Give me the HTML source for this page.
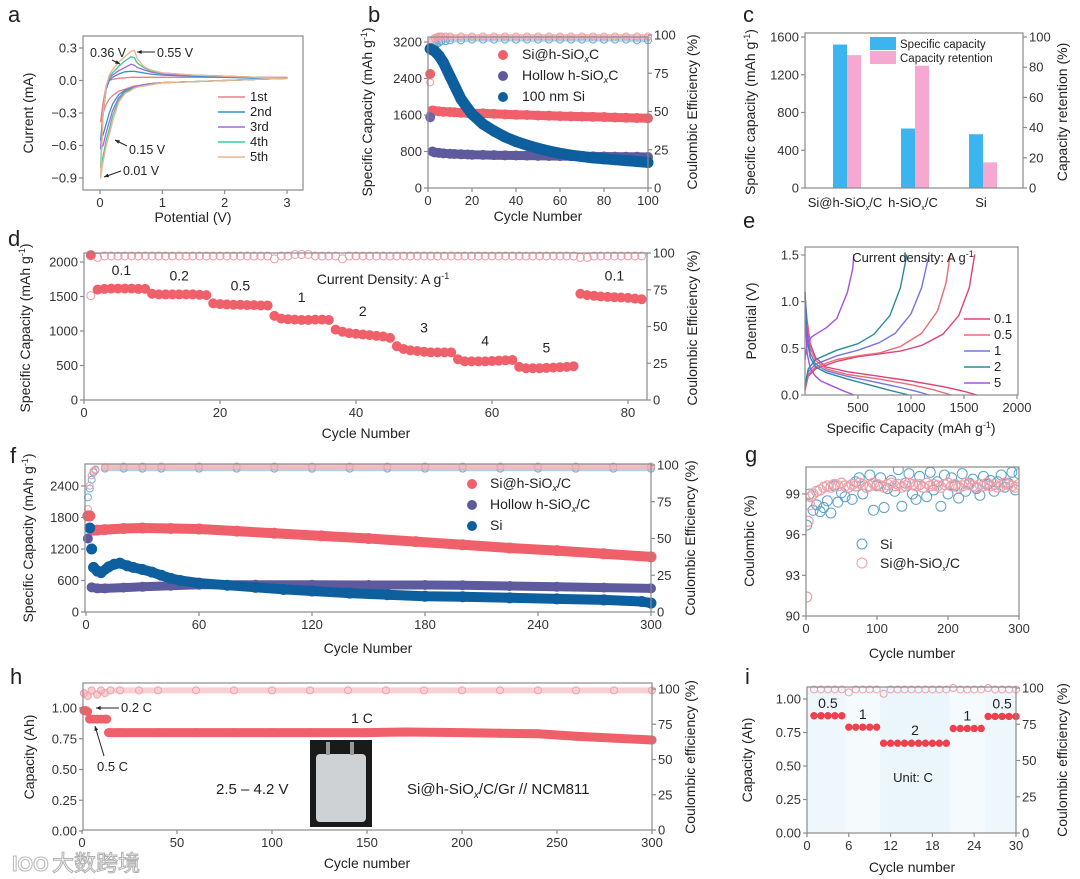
<!DOCTYPE html>
<html><head><meta charset="utf-8">
<style>
html,body{margin:0;padding:0;background:#fff;}
svg{display:block;font-family:"Liberation Sans","Noto Sans CJK SC",sans-serif;}
</style></head>
<body>
<svg id="fig" width="1080" height="879" viewBox="0 0 1080 879" xmlns="http://www.w3.org/2000/svg"></svg>
<script>
// ---------- data: panel a (CV) ----------
const aV=[0.01,0.05,0.1,0.15,0.2,0.3,0.4,0.5,0.55,0.6,0.7,0.8,1.0,1.5,2.0,2.5,3.0];
const aUp1=[-0.38,-0.2,-0.05,0.0,0.01,0.02,0.025,0.03,0.03,0.03,0.03,0.03,0.03,0.03,0.03,0.03,0.03];
const aDn1=[-0.38,-0.3,-0.22,-0.17,-0.14,-0.1,-0.08,-0.06,-0.05,-0.05,-0.04,-0.03,-0.02,-0.01,0,0.01,0.02];
const aUp2=[-0.55,-0.3,-0.08,0.0,0.03,0.06,0.08,0.085,0.085,0.08,0.07,0.06,0.05,0.04,0.03,0.02,0.02];
const aDn2=[-0.55,-0.5,-0.4,-0.3,-0.22,-0.13,-0.09,-0.07,-0.06,-0.05,-0.04,-0.03,-0.02,-0.01,0,0.01,0.02];
const aUp3=[-0.63,-0.3,-0.05,0.02,0.05,0.09,0.12,0.15,0.14,0.12,0.1,0.08,0.06,0.05,0.04,0.03,0.02];
const aDn3=[-0.63,-0.6,-0.48,-0.38,-0.28,-0.16,-0.1,-0.08,-0.06,-0.05,-0.04,-0.03,-0.02,-0.01,0,0.01,0.02];
const aUp4=[-0.8,-0.3,-0.05,0.03,0.07,0.13,0.18,0.22,0.21,0.16,0.12,0.09,0.07,0.05,0.04,0.03,0.02];
const aDn4=[-0.8,-0.7,-0.55,-0.45,-0.33,-0.18,-0.11,-0.08,-0.07,-0.06,-0.05,-0.04,-0.02,-0.01,0,0.01,0.02];
const aUp5=[-0.9,-0.3,-0.05,0.05,0.1,0.17,0.22,0.27,0.28,0.2,0.13,0.1,0.07,0.05,0.04,0.03,0.02];
const aDn5=[-0.9,-0.75,-0.6,-0.5,-0.38,-0.2,-0.12,-0.09,-0.07,-0.06,-0.05,-0.04,-0.02,-0.01,0,0.01,0.02];
const aNames=["1st","2nd","3rd","4th","5th"];
const aXTicks=[0,1,2,3];
const aYTicks=[0.3,0.0,-0.3,-0.6,-0.9];
const aYLabels=["0.3","0.0","\u22120.3","\u22120.6","\u22120.9"];
// ---------- panel b ----------
const bCycSi=[1,3,5,7,10,12,15,18,20,25,30,35,40,45,50,55,60,65,70,75,80,85,90,95,100];
const bSi=[3050,3000,2900,2750,2450,2250,1950,1750,1620,1400,1250,1120,1020,940,870,810,760,720,690,660,640,620,600,580,560];
const bCyc=[2,3,5,7,10,12,15,18,20,25,30,35,40,45,50,55,60,65,70,75,80,85,90,95,100];
const bSiC=[1700,1690,1680,1670,1665,1660,1650,1645,1640,1635,1625,1615,1605,1600,1590,1585,1575,1570,1565,1560,1555,1545,1540,1535,1530];
const bHol=[800,780,770,760,750,745,740,735,730,725,720,715,712,710,705,702,700,698,695,692,690,688,686,684,680];
const bFirstSiC=2500, bFirstHol=1550;
const bCeCyc=[1,2,3,4,5,6,8,10,15,20,25,30,35,40,45,50,55,60,65,70,75,80,85,90,95,100];
const bCeSiC=[69,96,98,98.5,99,99,99,99,99,99,99,99,99,99,99,99,99,99,99,99,99,99,99,99,99,99];
const bCeSi=[90,92,93,94,95,96,96,96.5,96.5,97,97,97,97,97,97,97,97,97,97,97,97,97,97,97,96.5,96.5];
const bCeHol=[48];
const bXTicks=[0,20,40,60,80,100];
const bYTicks=[0,800,1600,2400,3200];
const bRTicks=[0,25,50,75,100];
// ---------- panel c ----------
const cCats=["Si@h-SiOx/C","h-SiOx/C","Si"];
const cCap=[1520,630,570];
const cRet=[88,81,17];
const cYTicks=[0,400,800,1200,1600];
const cRTicks=[0,20,40,60,80,100];
// ---------- panel d ----------
const dCap=[2100,1600,1610,1615,1615,1615,1615,1610,1610,1540,1530,1530,1530,1530,1530,1530,1525,1520,1400,1390,1385,1380,1380,1375,1375,1370,1370,1220,1180,1170,1165,1160,1160,1165,1165,1160,1020,990,970,960,950,940,930,920,900,780,740,720,710,700,690,690,690,690,590,560,560,560,560,565,570,575,580,480,460,460,460,465,470,475,480,490,1540,1520,1510,1500,1495,1490,1485,1480,1470,1460];
const dCE=[71,97,98,98,98,98,98,98,98,98,98,98,98,98,98,98,98,98,98,98,98,98,98,98,98,98,98,96,98,98,99,99,99,98,98,98,98,96,98,98,98,98,98,98,98,98,98,98,98,98,98,98,98,98,98,98,98,98,98,98,98,98,98,98,98,98,98,98,98,98,98,98,97,97,98,98,98,98,98,98,98,98];
const dRates=["0.1","0.2","0.5","1","2","3","4","5","0.1"];
const dRateCyc=[5.5,14,23,32,41,50,59,68,78];
const dRateVal=[1620,1540,1400,1230,1030,790,600,500,1540];
const dXTicks=[0,20,40,60,80];
const dYTicks=[0,500,1000,1500,2000];
const dRTicks=[0,25,50,75,100];
// ---------- panel e ----------
const eLabels=["0.1","0.5","1","2","5"];
const eD01c=[0,20,50,100,200,400,700,1000,1300,1500,1620], eD01v=[1.05,0.8,0.55,0.4,0.3,0.25,0.2,0.15,0.09,0.04,0];
const eD05c=[0,20,50,100,200,400,700,1000,1200,1380], eD05v=[1.05,0.75,0.5,0.37,0.28,0.22,0.17,0.11,0.06,0];
const eD1c=[0,20,50,100,200,400,700,900,1050,1170], eD1v=[1.1,0.7,0.45,0.33,0.26,0.2,0.13,0.08,0.04,0];
const eD2c=[0,20,50,100,200,400,600,800,980], eD2v=[1.1,0.6,0.4,0.3,0.24,0.17,0.11,0.05,0];
const eD5c=[0,20,50,100,150,250,350,460], eD5v=[0.9,0.45,0.28,0.2,0.15,0.1,0.05,0];
const eC01c=[0,30,100,300,500,700,900,1100,1300,1450,1550,1600], eC01v=[0.05,0.2,0.28,0.36,0.41,0.44,0.47,0.53,0.65,0.85,1.15,1.5];
const eC05c=[0,30,100,300,500,700,900,1100,1250,1330,1370], eC05v=[0.05,0.22,0.3,0.38,0.42,0.45,0.52,0.66,0.9,1.2,1.5];
const eC1c=[0,30,100,300,500,700,850,1000,1100,1170], eC1v=[0.08,0.25,0.33,0.42,0.48,0.56,0.66,0.87,1.15,1.5];
const eC2c=[0,30,100,300,500,650,800,900,960], eC2v=[0.1,0.28,0.38,0.48,0.55,0.65,0.85,1.15,1.5];
const eC5c=[0,20,60,100,200,300,400,450,460], eC5v=[0.38,0.55,0.62,0.65,0.72,0.82,1.1,1.35,1.5];
const eXTicks=[500,1000,1500,2000];
const eYTicks=[0,0.5,1.0,1.5];
// ---------- panel f ----------
const fCycA=[1,2,4,6,10,20,30,45,60,80,100,125,150,175,200,225,250,275,300];
const fSiC=[1830,1830,1560,1560,1570,1590,1600,1590,1580,1540,1500,1450,1400,1340,1280,1220,1170,1110,1050];
const fCycH=[1,3,6,10,20,30,45,60,90,120,150,180,200,225,250,275,300];
const fHol=[1400,470,450,450,465,480,500,520,520,520,515,515,510,495,480,465,450];
const fCycS=[2,3,4,6,8,12,15,18,22,25,30,35,40,45,50,60,75,90,105,120,140,160,180,200,225,250,275,295,300];
const fSi=[1600,1200,850,780,750,860,910,930,880,850,810,760,700,640,600,550,510,470,430,400,360,330,300,290,270,250,230,200,170];
const fCeCyc=[1,2,3,4,5,10,20,30,40,60,80,100,120,140,160,180,200,220,240,260,280,300];
const fCeSiC=[70,86,93,96,97,98.5,99,99,99,99,99,99,99,99,99,99,99,99,99,99,99,99];
const fCeSi=[78,84,90,95,96.5,97.5,97.5,97.5,97.5,97.5,97.5,97.5,97.5,97.5,97.5,97.5,97.5,97.5,97.5,97.5,97.5,97.5];
const fXTicks=[0,60,120,180,240,300];
const fYTicks=[0,600,1200,1800,2400];
const fRTicks=[0,25,50,75,100];
// ---------- panel g ----------
const gCycSi=[1,5,10,15,20,25,30,35,40,45,50,55,60,65,70,75,80,85,90,95,100,105,110,115,120,125,130,135,140,145,150,155,160,165,170,175,180,185,190,195,200,205,210,215,220,225,230,235,240,245,250,255,260,265,270,275,280,285,290,295,300];
const gSi=[96.7,99.0,97.8,98.2,97.7,98.0,98.5,97.6,99.6,98.4,99.1,98.8,99.5,98.6,99.9,100.2,99.0,99.5,100.4,97.8,99.6,100.2,98.0,99.4,100.0,99.2,100.8,98.1,99.8,100.5,99.0,98.6,100.3,99.5,98.8,100.6,99.3,99.9,98.1,100.4,99.0,100.2,99.6,98.7,100.5,99.2,99.8,100.1,99.4,98.9,100.3,99.7,100.0,99.2,99.9,100.4,99.5,99.8,100.6,99.3,100.5];
const gCycSiC=[1,3,5,7,10,15,20,25,30,35,40,45,50,55,60,65,70,75,80,85,90,95,100,105,110,115,120,125,130,135,140,145,150,155,160,165,170,175,180,185,190,195,200,205,210,215,220,225,230,235,240,245,250,255,260,265,270,275,280,285,290,295,300];
const gSiC=[91.4,97.0,98.2,98.8,99.0,99.2,99.3,99.5,99.6,99.5,99.7,99.6,99.8,99.6,99.5,99.7,99.6,99.8,99.7,99.5,99.6,99.8,99.7,99.6,99.5,99.7,99.8,99.6,99.7,99.5,99.6,99.8,99.7,99.6,99.7,99.5,99.8,99.6,99.7,99.6,99.5,99.7,99.8,99.6,99.7,99.5,99.6,99.8,99.7,99.6,99.5,99.7,99.6,99.8,99.6,99.7,99.5,99.6,99.8,99.7,99.6,99.5,99.7];
const gXTicks=[0,100,200,300];
const gYTicks=[90,93,96,99];
// ---------- panel h ----------
const hCyc=[1,2,3,4,6,8,10,12,13,14,20,40,60,80,100,120,150,170,200,220,240,260,280,300];
const hCap=[0.98,0.98,0.97,0.91,0.91,0.91,0.91,0.91,0.91,0.80,0.80,0.80,0.80,0.80,0.80,0.80,0.80,0.805,0.80,0.795,0.79,0.77,0.755,0.74];
const hCeCyc=[1,3,5,8,10,12,15,20,30,40,60,80,100,120,140,160,180,200,220,240,260,280,300];
const hCe=[97,95,99,96,99,97,99,99,99,99,99,99,99,99,99,99,99,99,99,99,99,99,99];
const hXTicks=[0,50,100,150,200,250,300];
const hYTicks=[0,0.25,0.5,0.75,1.0];
const hYLabels=["0.00","0.25","0.50","0.75","1.00"];
const hRTicks=[0,25,50,75,100];
// ---------- panel i ----------
const iCyc=[1,2,3,4,5,6,7,8,9,10,11,12,13,14,15,16,17,18,19,20,21,22,23,24,25,26,27,28,29,30];
const iCap=[0.875,0.875,0.875,0.875,0.875,0.79,0.79,0.79,0.79,0.79,0.67,0.67,0.67,0.67,0.67,0.67,0.67,0.67,0.67,0.67,0.78,0.78,0.78,0.78,0.78,0.87,0.87,0.87,0.87,0.87];
const iCe=[99,99,99,99,99,97,99,99,99,99,96,99,99,99,99,99,99,99,99,99,100,99,99,99,99,100,99,99,99,99];
const iRates=["0.5","1","2","1","0.5"];
const iRateCyc=[3,8,15.5,23,28];
const iRateVal=[0.875,0.79,0.67,0.78,0.87];
const iXTicks=[0,6,12,18,24,30];
const iYTicks=[0,0.25,0.5,0.75,1.0];
const iYLabels=["0.00","0.25","0.50","0.75","1.00"];
const iRTicks=[0,25,50,75,100];

// ---------- helpers ----------
const NS="http://www.w3.org/2000/svg";
const svg=document.getElementById('fig');
function el(tag,attrs,name,parent){
  const e=document.createElementNS(NS,tag);
  for(const k in attrs) e.setAttribute(k,attrs[k]);
  
  
  (parent||svg).appendChild(e);
  return e;
}
function lin(d0,d1,p0,p1){return v=>p0+(v-d0)/(d1-d0)*(p1-p0);}
function txt(x,y,s,size,anchor,name,fill){
  const t=el('text',{x:x,y:y,'font-size':size,'text-anchor':anchor||'middle',fill:fill||'#222'},name);
  t.innerHTML=s;return t;
}
function rtxt(x,y,s,size,name){
  const t=el('text',{x:0,y:0,'font-size':size,'text-anchor':'middle',fill:'#222',transform:`translate(${x},${y}) rotate(-90)`},name);
  t.innerHTML=s;return t;
}
function frame(l,t,r,b,name){el('rect',{x:l,y:t,width:r-l,height:b-t,fill:'none',stroke:'#8a8a8a','stroke-width':1.2},name);}
function xticks(sx,vals,yb,name,labels){
  vals.forEach((v,i)=>{
    el('line',{x1:sx(v),x2:sx(v),y1:yb,y2:yb+4,stroke:'#8a8a8a','stroke-width':1.2},name+'-tick');
    txt(sx(v),yb+17,labels?labels[i]:String(v),13,'middle',name+'-label','#333');
  });
}
function yticks(sy,vals,x,side,name,labels){
  vals.forEach((v,i)=>{
    const d=side==='left'?-4:4;
    el('line',{x1:x,x2:x+d,y1:sy(v),y2:sy(v),stroke:'#8a8a8a','stroke-width':1.2},name+'-tick');
    txt(side==='left'?x-6:x+6,sy(v)+4.5,labels?labels[i]:String(v),13,side==='left'?'end':'start',name+'-label','#333');
  });
}
function line(xs,ys,sx,sy,color,w,name,op){
  const pts=xs.map((x,i)=>sx(x).toFixed(1)+','+sy(ys[i]).toFixed(1)).join(' ');
  el('polyline',{points:pts,fill:'none',stroke:color,'stroke-width':w,'stroke-linejoin':'round','stroke-linecap':'round',opacity:op||1},name);
}
function dots(xs,ys,sx,sy,color,r,name,filled){
  xs.forEach((x,i)=>{
    el('circle',{cx:sx(x),cy:sy(ys[i]),r:r,fill:filled?color:'none',stroke:color,'stroke-width':1},name);
  });
}
function letter(x,y,s){txt(x,y,s,22,'start','panel-label-'+s);}
function arrow(x1,y1,x2,y2,name){
  el('line',{x1:x1,y1:y1,x2:x2,y2:y2,stroke:'#222','stroke-width':1},name);
  const a=Math.atan2(y2-y1,x2-x1),L=5;
  const p=[[x2,y2],[x2-L*Math.cos(a-0.4),y2-L*Math.sin(a-0.4)],[x2-L*Math.cos(a+0.4),y2-L*Math.sin(a+0.4)]];
  el('polygon',{points:p.map(q=>q.join(',')).join(' '),fill:'#222'},name+'-head');
}
const SUBX='<tspan font-size="9" dy="3" font-style="italic">x</tspan><tspan dy="-3">';
const SUP1='<tspan font-size="9" dy="-5">-1</tspan><tspan dy="5">)</tspan>';

// ================= panel a =================
(function(){
  const sx=lin(0,3,100,287), sy=lin(-0.9,0.3,178,48);
  letter(8,22,'a');
  const cols=['#e8808c','#3a8fc8','#a668d6','#3cc8a0','#eab48a'];
  const ups=[aUp1,aUp2,aUp3,aUp4,aUp5], dns=[aDn1,aDn2,aDn3,aDn4,aDn5];
  for(let k=0;k<5;k++){
    line(aV,ups[k],sx,sy,cols[k],1.3,'cv-anodic-'+aNames[k]);
    line(aV,dns[k],sx,sy,cols[k],1.3,'cv-cathodic-'+aNames[k]);
  }
  frame(83,36,303,190,'a-plot-frame');
  xticks(sx,aXTicks,190,'a-x');
  yticks(sy,aYTicks,83,'left','a-y',aYLabels);
  rtxt(33,113,'Current (mA)',14,'a-y-axis-title');
  txt(193,222,'Potential (V)',14,'middle','a-x-axis-title');
  aNames.forEach((n,k)=>{
    const y=101+k*15;
    el('line',{x1:218,x2:245,y1:y-4,y2:y-4,stroke:cols[k],'stroke-width':1.5},'a-legend-line');
    txt(250,y,n,13,'start','a-legend-label');
  });
  txt(90,57,'0.36 V',12.5,'start','annotation-036v');
  arrow(112,60,120,64,'arrow-036v');
  txt(157,57,'0.55 V',12.5,'start','annotation-055v');
  arrow(155,52,137,52,'arrow-055v');
  txt(129,154,'0.15 V',12.5,'start','annotation-015v');
  arrow(127,146,115,140,'arrow-015v');
  txt(123,175,'0.01 V',12.5,'start','annotation-001v');
  arrow(121,171,104,177,'arrow-001v');
})();

// ================= panel b =================
(function(){
  const sx=lin(0,100,428,648), sy=lin(0,3200,188,42), sr=lin(0,100,188,35);
  letter(368,22,'b');
  line(bCeCyc,bCeSi,sx,sr,'#7ab8dc',4,'b-ce-si-band',0.6);
  dots(bCeCyc,bCeSi,sx,sr,'#5aa6d4',3.5,'b-ce-si-point',false);
  line(bCeCyc.slice(1),bCeSiC.slice(1),sx,sr,'#f4b0b6',5,'b-ce-sic-band',0.8);
  dots(bCeCyc,bCeSiC,sx,sr,'#f09aa2',3.5,'b-ce-sic-point',false);
  dots([1],bCeHol,sx,sr,'#8a86c4',3.5,'b-ce-hollow-point',false);
  line(bCyc,bHol,sx,sy,'#5e5a9e',9,'b-hollow-series');
  dots(bCyc,bHol,sx,sy,'#5e5a9e',4.5,'b-hollow-point',true);
  line(bCyc,bSiC,sx,sy,'#f0606a',9,'b-sic-series');
  dots(bCyc,bSiC,sx,sy,'#f0606a',4.5,'b-sic-point',true);
  line(bCycSi,bSi,sx,sy,'#0d5f9e',11,'b-si-series');
  dots(bCycSi,bSi,sx,sy,'#0d5f9e',5,'b-si-point',true);
  dots([1],[bFirstSiC],sx,sy,'#f0606a',4.5,'b-sic-first-cycle',true);
  dots([1],[bFirstHol],sx,sy,'#6a66b0',4.5,'b-hollow-first-cycle',true);
  frame(428,37,648,188,'b-plot-frame');
  xticks(sx,bXTicks,188,'b-x');
  yticks(sy,bYTicks,428,'left','b-y');
  yticks(sr,bRTicks,648,'right','b-yr');
  rtxt(372,112,'Specific Capacity (mAh g'+SUP1,14,'b-y-axis-title');
  rtxt(697,112,'Coulombic Efficiency (%)',14,'b-y2-axis-title');
  txt(538,221,'Cycle Number',14,'middle','b-x-axis-title');
  const lg=[['#f0606a','Si@h-SiO'+SUBX+'C</tspan>'],['#5e5a9e','Hollow h-SiO'+SUBX+'C</tspan>'],['#0d5f9e','100 nm Si']];
  lg.forEach((l,k)=>{
    el('circle',{cx:503,cy:59+k*21-4,r:5,fill:l[0]},'b-legend-marker');
    txt(522,59+k*21,l[1],14,'start','b-legend-label');
  });
})();

// ================= panel c =================
(function(){
  const sy=lin(0,1600,188,37), sr=lin(0,100,188,37);
  const cx=[847,915,983];
  letter(743,22,'c');
  cCats.forEach((c,i)=>{
    el('rect',{x:cx[i]-14,y:sy(cCap[i]),width:14,height:188-sy(cCap[i]),fill:'#3cb4f0'},'c-bar-capacity');
    el('rect',{x:cx[i],y:sr(cRet[i]),width:14,height:188-sr(cRet[i]),fill:'#f7a8d0'},'c-bar-retention');
  });
  frame(805,33,1023,188,'c-plot-frame');
  yticks(sy,cYTicks,805,'left','c-y');
  yticks(sr,cRTicks,1023,'right','c-yr');
  const labs=['Si@h-SiO<tspan font-size="7" dy="3">x</tspan><tspan dy="-3">/C</tspan>','h-SiO<tspan font-size="7" dy="3">x</tspan><tspan dy="-3">/C</tspan>','Si'];
  labs.forEach((l,i)=>txt(cx[i]-2,207,l,13,'middle','c-category-label'));
  rtxt(755,112,'Specific capacity (mAh g'+SUP1,14,'c-y-axis-title');
  rtxt(1067,112,'Capacity retention  (%)',14,'c-y2-axis-title');
  el('rect',{x:870,y:37,width:26,height:13,fill:'#3cb4f0'},'c-legend-swatch-capacity');
  txt(900,48,'Specific capacity',11.5,'start','c-legend-label');
  el('rect',{x:870,y:51,width:26,height:13,fill:'#f7a8d0'},'c-legend-swatch-retention');
  txt(900,62,'Capacity retention',11.5,'start','c-legend-label');
})();

// ================= panel d =================
(function(){
  const sx=lin(0,80,84,628), sy=lin(0,2000,400,262), sr=lin(0,100,400,253);
  letter(8,246,'d');
  const cyc=dCap.map((v,i)=>i+1);
  dots(cyc,dCE,sx,sr,'#f09aa2',4,'d-ce-point',false);
  dots(cyc.slice(1),dCap.slice(1),sx,sy,'#f0606a',4.5,'d-capacity-point',true);
  dots([1],[dCap[0]],sx,sy,'#f0606a',4.5,'d-capacity-first',true);
  dRates.forEach((r,i)=>txt(sx(dRateCyc[i]),sy(dRateVal[i])-13,r,14,'middle','d-rate-label'));
  frame(84,253,647,400,'d-plot-frame');
  xticks(sx,dXTicks,400,'d-x');
  yticks(sy,dYTicks,84,'left','d-y');
  yticks(sr,dRTicks,647,'right','d-yr');
  txt(383,284,'Current Density: A g<tspan font-size="9" dy="-5">-1</tspan>',14,'middle','d-annotation');
  rtxt(30,328,'Specific Capacity (mAh g'+SUP1,14,'d-y-axis-title');
  rtxt(697,328,'Coulombic Efficiency (%)',14,'d-y2-axis-title');
  txt(366,438,'Cycle Number',14,'middle','d-x-axis-title');
})();

// ================= panel e =================
(function(){
  const sx=lin(0,2000,805,1017), sy=lin(0,1.5,395,255);
  letter(743,228,'e');
  const cols=['#e0407a','#ec6a74','#7474e4','#2a8a9a','#a452e2'];
  const D=[[eD01c,eD01v],[eD05c,eD05v],[eD1c,eD1v],[eD2c,eD2v],[eD5c,eD5v]];
  const C=[[eC01c,eC01v],[eC05c,eC05v],[eC1c,eC1v],[eC2c,eC2v],[eC5c,eC5v]];
  for(let k=0;k<5;k++){
    line(D[k][0],D[k][1],sx,sy,cols[k],1.4,'e-discharge-'+eLabels[k]);
    line(C[k][0],C[k][1],sx,sy,cols[k],1.4,'e-charge-'+eLabels[k]);
  }
  frame(805,247,1018,395,'e-plot-frame');
  xticks(sx,eXTicks,395,'e-x');
  yticks(sy,eYTicks,805,'left','e-y',['0.0','0.5','1.0','1.5']);
  txt(913,262,'Current density: A g<tspan font-size="9" dy="-5">-1</tspan>',13,'middle','e-annotation');
  eLabels.forEach((l,k)=>{
    const y=323+k*16;
    el('line',{x1:964,x2:990,y1:y-4,y2:y-4,stroke:cols[k],'stroke-width':1.5},'e-legend-line');
    txt(994,y,l,13,'start','e-legend-label');
  });
  rtxt(756,321,'Potential (V)',14,'e-y-axis-title');
  txt(911,433,'Specific Capacity (mAh g'+SUP1,14,'middle','e-x-axis-title');
})();

// ================= panel f =================
(function(){
  const sx=lin(0,300,86,651), sy=lin(0,2400,612,486), sr=lin(0,100,612,465);
  letter(10,463,'f');
  line(fCeCyc.slice(5),fCeSi.slice(5),sx,sr,'#8cc0e0',5,'f-ce-si-band',0.7);
  dots(fCeCyc,fCeSi,sx,sr,'#6aaed6',3.5,'f-ce-si-point',false);
  line(fCeCyc.slice(5),fCeSiC.slice(5),sx,sr,'#f6b8bd',6,'f-ce-sic-band',0.9);
  dots(fCeCyc,fCeSiC,sx,sr,'#f0a0a8',3.5,'f-ce-sic-point',false);
  line(fCycH.slice(1),fHol.slice(1),sx,sy,'#5e5a9e',9,'f-hollow-series');
  dots(fCycH,fHol,sx,sy,'#5e5a9e',4.5,'f-hollow-point',true);
  line(fCycA.slice(2),fSiC.slice(2),sx,sy,'#f0606a',10,'f-sic-series');
  dots(fCycA,fSiC,sx,sy,'#f0606a',5,'f-sic-point',true);
  line(fCycS.slice(2),fSi.slice(2),sx,sy,'#0d5f9e',10,'f-si-series');
  dots(fCycS,fSi,sx,sy,'#0d5f9e',5,'f-si-point',true);
  frame(85,464,651,612,'f-plot-frame');
  xticks(sx,fXTicks,612,'f-x');
  yticks(sy,fYTicks,85,'left','f-y');
  yticks(sr,fRTicks,651,'right','f-yr');
  rtxt(33,538,'Specific Capacity (mAh g'+SUP1,14,'f-y-axis-title');
  rtxt(695,538,'Coulombic Efficiency (%)',14,'f-y2-axis-title');
  txt(368,653,'Cycle Number',14,'middle','f-x-axis-title');
  const lg=[['#f0606a','Si@h-SiO'+SUBX+'/C</tspan>'],['#5e5a9e','Hollow h-SiO'+SUBX+'/C</tspan>'],['#0d5f9e','Si']];
  lg.forEach((l,k)=>{
    el('circle',{cx:472,cy:488+k*21-4,r:5,fill:l[0]},'f-legend-marker');
    txt(490,488+k*21,l[1],14,'start','f-legend-label');
  });
})();

// ================= panel g =================
(function(){
  const sx=lin(0,300,806,1019), sy=lin(90,99,616,494);
  letter(745,462,'g');
  const cp=el('clipPath',{id:'gclip'},'g-clip');
  el('rect',{x:806,y:467,width:213,height:149},'g-clip-rect',cp);
  const grp=el('g',{'clip-path':'url(#gclip)'},'g-plot-area');
  gCycSi.forEach((c,i)=>el('circle',{cx:sx(c),cy:sy(gSi[i]),r:5,fill:'none',stroke:'#5aa0c8','stroke-width':1},'g-si-point',grp));
  gCycSiC.forEach((c,i)=>el('circle',{cx:sx(c),cy:sy(gSiC[i]),r:5,fill:'none',stroke:'#f0a0a8','stroke-width':1.2},'g-sic-point',grp));
  frame(806,467,1019,616,'g-plot-frame');
  xticks(sx,gXTicks,616,'g-x');
  yticks(sy,gYTicks,806,'left','g-y');
  el('circle',{cx:862,cy:544,r:5,fill:'none',stroke:'#5aa0c8'},'g-legend-marker-si');
  txt(880,549,'Si',14,'start','g-legend-label');
  el('circle',{cx:862,cy:563,r:5,fill:'none',stroke:'#f0a0a8'},'g-legend-marker-sic');
  txt(880,568,'Si@h-SiO<tspan font-size="7" dy="3">x</tspan><tspan dy="-3">/C</tspan>',14,'start','g-legend-label');
  rtxt(754,541,'Coulombic (%)',14,'g-y-axis-title');
  txt(912,658,'Cycle number',14,'middle','g-x-axis-title');
})();

// ================= panel h =================
(function(){
  const sx=lin(0,300,82,652), sy=lin(0,1,831,708), sr=lin(0,100,830,689);
  letter(10,684,'h');
  line(hCeCyc,hCe,sx,sr,'#f6c4c8',6,'h-ce-band',0.8);
  dots(hCeCyc,hCe,sx,sr,'#f0a0a8',3.5,'h-ce-point',false);
  line(hCyc.slice(0,3),hCap.slice(0,3),sx,sy,'#f0606a',8,'h-capacity-02c');
  line(hCyc.slice(3,9),hCap.slice(3,9),sx,sy,'#f0606a',8,'h-capacity-05c');
  line(hCyc.slice(9),hCap.slice(9),sx,sy,'#f0606a',9,'h-capacity-1c');
  dots(hCyc,hCap,sx,sy,'#f0606a',4,'h-capacity-point',true);
  // inset photo
  el('rect',{x:310,y:740,width:62,height:87,fill:'#1a1a1a'},'h-inset-photo');
  el('rect',{x:316,y:754,width:50,height:68,rx:4,fill:'#cfd2d4'},'h-inset-cell');
  el('rect',{x:326,y:742,width:4,height:13,fill:'#999'},'h-inset-tab');
  el('rect',{x:350,y:742,width:4,height:13,fill:'#999'},'h-inset-tab');
  frame(83,683,652,830,'h-plot-frame');
  xticks(sx,hXTicks,830,'h-x');
  yticks(sy,hYTicks,83,'left','h-y',hYLabels);
  yticks(sr,hRTicks,652,'right','h-yr');
  txt(121,712,'0.2 C',13,'start','h-annotation-02c');
  arrow(119,708,96,708,'h-arrow-02c');
  txt(97,771,'0.5 C',13,'start','h-annotation-05c');
  arrow(104,756,95,726,'h-arrow-05c');
  txt(362,723,'1 C',14,'middle','h-annotation-1c');
  txt(216,794,'2.5 \u2013 4.2 V',15,'start','h-voltage-window');
  txt(407,794,'Si@h-SiO<tspan font-size="10" dy="4" font-style="italic">x</tspan><tspan dy="-4">/C/Gr // NCM811</tspan>',15,'start','h-cell-label');
  rtxt(34,757,'Capacity (Ah)',14,'h-y-axis-title');
  rtxt(695,757,'Coulombic efficiency (%)',14,'h-y2-axis-title');
  txt(367,868,'Cycle number',14,'middle','h-x-axis-title');
})();

// ================= panel i =================
(function(){
  const sx=lin(0,30,807,1016), sy=lin(0,1,833,699), sr=lin(0,100,833,688);
  letter(745,684,'i');
  const bands=[[0,5.5,'#eef8fc'],[5.5,10.5,'#f5fbfd'],[10.5,20.5,'#eaf6fb'],[20.5,25.5,'#f5fbfd'],[25.5,30,'#eef8fc']];
  bands.forEach(b=>el('rect',{x:sx(b[0]),y:687,width:sx(b[1])-sx(b[0]),height:146,fill:b[2]},'i-rate-band'));
  dots(iCyc,iCe,sx,sr,'#f0a0a8',3.5,'i-ce-point',false);
  dots(iCyc,iCap,sx,sy,'#f0404e',3.2,'i-capacity-point',true);
  iRates.forEach((r,i)=>txt(sx(iRateCyc[i]),sy(iRateVal[i])-8,r,14,'middle','i-rate-label'));
  frame(807,687,1016,833,'i-plot-frame');
  xticks(sx,iXTicks,833,'i-x');
  yticks(sy,iYTicks,807,'left','i-y',iYLabels);
  yticks(sr,iRTicks,1016,'right','i-yr');
  txt(913,782,'Unit: C',13,'middle','i-annotation');
  rtxt(752,760,'Capacity (Ah)',14,'i-y-axis-title');
  rtxt(1067,760,'Coulombic efficiency (%)',14,'i-y2-axis-title');
  txt(912,872,'Cycle number',14,'middle','i-x-axis-title');
})();

// watermark
(function(){
  const t=el('text',{x:12,y:871,'font-size':20,fill:'#fff',stroke:'#b8b8b8','stroke-width':1,'font-weight':'bold'},'watermark-logo');
  t.textContent='lOO';
  const w=el('text',{x:52,y:871,'font-size':22,fill:'#fff',stroke:'#b0b0b0','stroke-width':1},'watermark-text');
  w.textContent='大数跨境';
})();
</script>
</body></html>
